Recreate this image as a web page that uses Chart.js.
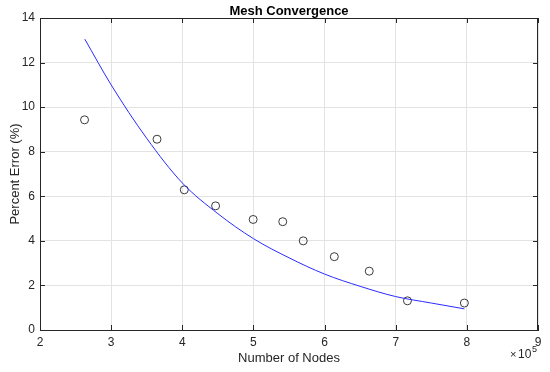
<!DOCTYPE html>
<html lang="en">
<head>
    <meta charset="UTF-8">
    <title>Mesh Convergence</title>
    <script src="https://cdn.jsdelivr.net/npm/chart.js"></script>
    <style>
        body { margin: 0; background: #ffffff; }
        #wrap { width: 550px; height: 372px; position: relative; }
    </style>
</head>
<body>
    <div id="wrap">
        <canvas id="meshChart"></canvas>
    </div>
    <script>
        // Measured points (x in units of 10^5 nodes)
        const nodeCounts = [2.626, 3.645, 4.028, 4.468, 4.996, 5.412, 5.70, 6.137, 6.628, 7.165, 7.965];
        const percentErrors = [9.43, 8.56, 6.29, 5.57, 4.96, 4.86, 4.00, 3.29, 2.64, 1.31, 1.21];

        // Fitted curve
        const fitX = [2.63, 3.0, 3.5, 4.0, 4.5, 5.0, 5.5, 6.0, 6.5, 7.0, 7.5, 7.965];
        const fitY = [13.05, 11.0, 8.6, 6.6, 5.22, 4.1, 3.24, 2.51, 1.96, 1.5, 1.21, 0.95];

        const xTicks = [2, 3, 4, 5, 6, 7, 8, 9];
        const yTicks = [0, 2, 4, 6, 8, 10, 12, 14];

        const axisColor = '#262626';
        const gridColor = '#e3e3e3';
        const fontFamily = "'Liberation Sans', Arial, sans-serif";

        // Title, axis labels, box and inward tick marks (MATLAB look)
        const matlabFrame = {
            id: 'matlabFrame',
            afterDraw(chart) {
                const ctx = chart.ctx;
                const ca = chart.chartArea;
                const xs = chart.scales.x;
                const ys = chart.scales.y;
                ctx.save();
                ctx.strokeStyle = axisColor;
                ctx.lineWidth = 1;

                // top and right box lines
                ctx.beginPath();
                ctx.moveTo(ca.left, ca.top + 0.5);
                ctx.lineTo(ca.right, ca.top + 0.5);
                ctx.moveTo(ca.right - 0.5, ca.top);
                ctx.lineTo(ca.right - 0.5, ca.bottom);
                ctx.stroke();

                // inward ticks
                const tl = 5;
                ctx.beginPath();
                xTicks.forEach(v => {
                    const px = Math.round(xs.getPixelForValue(v)) + 0.5;
                    ctx.moveTo(px, ca.bottom); ctx.lineTo(px, ca.bottom - tl);
                    ctx.moveTo(px, ca.top); ctx.lineTo(px, ca.top + tl);
                });
                yTicks.forEach(v => {
                    const py = Math.round(ys.getPixelForValue(v)) + 0.5;
                    ctx.moveTo(ca.left, py); ctx.lineTo(ca.left + tl, py);
                    ctx.moveTo(ca.right, py); ctx.lineTo(ca.right - tl, py);
                });
                ctx.stroke();

                // title
                ctx.fillStyle = '#000000';
                ctx.textAlign = 'center';
                ctx.textBaseline = 'alphabetic';
                ctx.font = 'bold 13px ' + fontFamily;
                ctx.fillText('Mesh Convergence', (ca.left + ca.right) / 2, 15);

                // axis titles
                ctx.fillStyle = axisColor;
                ctx.font = '13px ' + fontFamily;
                ctx.fillText('Number of Nodes', (ca.left + ca.right) / 2, 362);

                ctx.save();
                ctx.translate(19, (ca.top + ca.bottom) / 2);
                ctx.rotate(-Math.PI / 2);
                ctx.fillText('Percent Error (%)', 0, 0);
                ctx.restore();

                // exponent marker
                ctx.textAlign = 'left';
                ctx.font = '11px ' + fontFamily;
                ctx.fillText('\u00d7', 510, 358);
                ctx.font = '12px ' + fontFamily;
                ctx.fillText('10', 518, 358);
                ctx.font = '9px ' + fontFamily;
                ctx.fillText('5', 532, 352);

                ctx.restore();
            }
        };

        new Chart(document.getElementById('meshChart'), {
            type: 'scatter',
            data: {
                datasets: [
                    {
                        label: 'Fit',
                        data: fitX.map((x, i) => ({ x: x, y: fitY[i] })),
                        showLine: true,
                        borderColor: '#2a2aff',
                        borderWidth: 1,
                        pointRadius: 0,
                        cubicInterpolationMode: 'monotone',
                        fill: false
                    },
                    {
                        label: 'Data',
                        data: nodeCounts.map((x, i) => ({ x: x, y: percentErrors[i] })),
                        pointStyle: 'circle',
                        pointRadius: 4,
                        borderColor: '#3a3a3a',
                        backgroundColor: 'rgba(0,0,0,0)',
                        borderWidth: 1
                    }
                ]
            },
            options: {
                responsive: true,
                maintainAspectRatio: false,
                animation: false,
                devicePixelRatio: 1,
                layout: { padding: { top: 18, right: 12, left: 0, bottom: 0 } },
                plugins: {
                    legend: { display: false },
                    tooltip: { enabled: false }
                },
                scales: {
                    x: {
                        type: 'linear',
                        min: 2,
                        max: 9,
                        afterBuildTicks: s => { s.ticks = xTicks.map(v => ({ value: v })); },
                        afterFit: s => { s.height = 42; },
                        ticks: { color: axisColor, padding: 5, font: { family: fontFamily, size: 12 } },
                        grid: { color: gridColor, drawTicks: false },
                        border: { color: axisColor, width: 1 }
                    },
                    y: {
                        type: 'linear',
                        min: 0,
                        max: 14,
                        afterBuildTicks: s => { s.ticks = yTicks.map(v => ({ value: v })); },
                        afterFit: s => { s.width = 40; },
                        ticks: { color: axisColor, padding: 5, font: { family: fontFamily, size: 12 } },
                        grid: { color: gridColor, drawTicks: false },
                        border: { color: axisColor, width: 1 }
                    }
                }
            },
            plugins: [matlabFrame]
        });
    </script>
</body>
</html>
